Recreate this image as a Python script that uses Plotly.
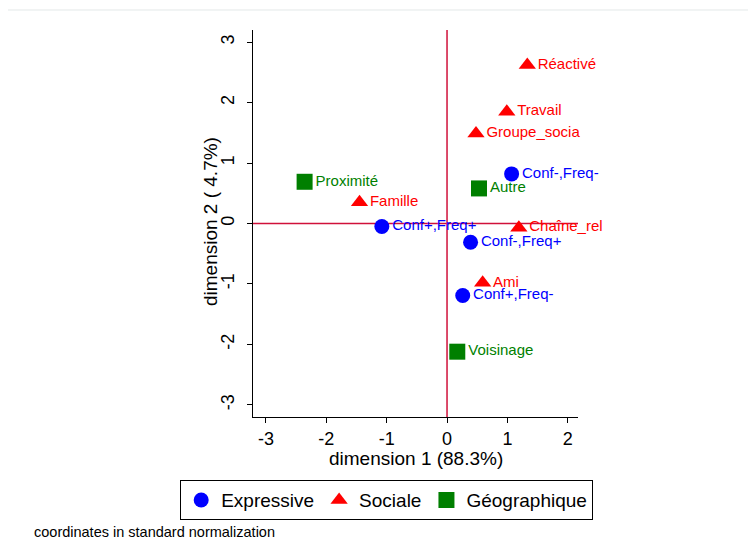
import plotly.graph_objects as go

# Data
expr_labels = ["Conf-,Freq-", "Conf+,Freq+", "Conf-,Freq+", "Conf+,Freq-"]
expr_x = [1.07, -1.08, 0.39, 0.26]
expr_y = [0.82, -0.05, -0.31, -1.19]

soc_labels = ["Réactivé", "Travail", "Groupe_socia", "Famille", "Chaîne_rel", "Ami"]
soc_x = [1.33, 0.99, 0.48, -1.45, 1.19, 0.59]
soc_y = [2.62, 1.85, 1.49, 0.35, -0.07, -0.98]

geo_labels = ["Proximité", "Autre", "Voisinage"]
geo_x = [-2.36, 0.53, 0.17]
geo_y = [0.69, 0.58, -2.12]

x_ticks = [-3, -2, -1, 0, 1, 2]
x_ticktext = ["-3", "-2", "-1", "0", "1", "2"]
y_ticks = [-3, -2, -1, 0, 1, 2, 3]
y_ticktext = ["-3", "-2", "-1", "0", "1", "2", "3"]

FONT = "Liberation Sans, Arial, sans-serif"
BLUE, RED, GREEN = "#0000ff", "#ff0000", "#007f00"

fig = go.Figure()

def add(name, xs, ys, labels, color, symbol, size):
    fig.add_trace(go.Scatter(
        x=xs, y=ys, text=labels, name=name,
        mode="markers+text", textposition="middle right",
        marker=dict(color=color, symbol=symbol, size=size, line=dict(width=0)),
        textfont=dict(color=color, size=15, family=FONT),
        cliponaxis=False,
    ))

add("Expressive", expr_x, expr_y, expr_labels, BLUE, "circle", 15)
add("Sociale", soc_x, soc_y, soc_labels, RED, "triangle-up", 15)
add("Géographique", geo_x, geo_y, geo_labels, GREEN, "square", 16)

CRIMSON = "#d0103a"
fig.add_shape(type="line", xref="x", yref="paper", x0=0, x1=0, y0=0, y1=1,
              line=dict(color=CRIMSON, width=1.5), layer="below")
fig.add_shape(type="line", xref="paper", yref="y", x0=0, x1=1, y0=0, y1=0,
              line=dict(color=CRIMSON, width=1.5), layer="below")
# faint top rule
fig.add_shape(type="line", xref="paper", yref="paper", x0=-0.757, x1=1.55,
              y0=1.0517, y1=1.0517, line=dict(color="#e3e8e8", width=1))

# axis titles
fig.add_annotation(text="dimension 1 (88.3%)", xref="paper", yref="paper",
                   x=0.503, y=-0.106, xanchor="center", yanchor="middle", showarrow=False,
                   font=dict(size=19, color="black", family=FONT))
fig.add_annotation(text="dimension 2 ( 4.7%)", xref="paper", yref="paper", textangle=-90,
                   x=-0.129, y=0.504, xanchor="center", yanchor="middle", showarrow=False,
                   font=dict(size=19, color="black", family=FONT))

fig.add_annotation(text="coordinates in standard normalization", xref="paper", yref="paper",
                   x=-0.68, y=-0.297, xanchor="left", yanchor="middle", showarrow=False,
                   font=dict(size=14.5, color="black", family=FONT))

fig.update_layout(
    width=756, height=539,
    margin=dict(l=245, r=186, t=22, b=130, autoexpand=False),
    paper_bgcolor="white", plot_bgcolor="white",
    font=dict(family=FONT, color="black", size=19),
    xaxis=dict(range=[-3.215, 2.17], tickvals=x_ticks, ticktext=x_ticktext,
               showgrid=False, zeroline=False, automargin=False,
               showline=True, linecolor="black", linewidth=1, ticks="outside",
               ticklen=5, tickcolor="black", tickfont=dict(size=18)),
    yaxis=dict(range=[-3.2, 3.2], tickvals=y_ticks, ticktext=y_ticktext,
               showgrid=False, zeroline=False, automargin=False,
               showline=True, linecolor="black", linewidth=1, ticks="outside",
               ticklen=5, tickcolor="black", tickangle=-90, ticklabelstandoff=6,
               tickfont=dict(size=18)),
    legend=dict(orientation="h", x=-0.224, xanchor="left", y=-0.163, yanchor="top",
                bordercolor="black", borderwidth=1, font=dict(size=19, family=FONT),
                itemsizing="trace", bgcolor="white"),
    showlegend=True,
)

fig.write_html("out.html")
